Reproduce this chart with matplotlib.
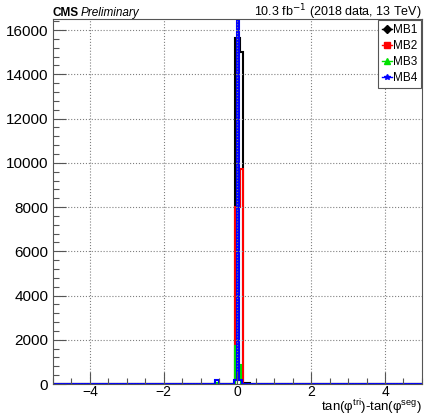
import numpy as np
import matplotlib.pyplot as plt
from matplotlib.lines import Line2D

plt.rcParams['font.family'] = ['Liberation Sans', 'DejaVu Sans']

# bin edges / counts (zero outside the listed bins)
mb1_edges = [-5, -0.065, 0.07, 0.15, 0.35, 5]
mb1_counts = [0, 15650, 15000, 50, 0]
mb2_edges = [-5, -0.065, 0.07, 0.15, 5]
mb2_counts = [0, 8000, 9700, 0]
mb3_edges = [-5, -0.6, -0.5, -0.065, 0.035, 0.1, 5]
mb3_counts = [0, 60, 0, 1700, 860, 0]
mb4_edges = [-5, -0.6, -0.5, -0.1, 0.0, 0.055, 0.12, 5]
mb4_counts = [0, 200, 0, 180, 30000, 170, 0]

labels = ['MB1', 'MB2', 'MB3', 'MB4']
colors = ['black', 'red', '#00e000', 'blue']
markers = ['D', 's', '^', '*']

fig = plt.figure(figsize=(4.25, 4.18), dpi=100)
ax = fig.add_axes([0.1247, 0.0813, 0.868, 0.8732])

series = [(mb1_edges, mb1_counts), (mb2_edges, mb2_counts),
          (mb3_edges, mb3_counts), (mb4_edges, mb4_counts)]
for (e, c), col in zip(series, colors):
    ax.stairs(c, e, color=col, lw=1.5, baseline=0)

ax.set_xlim(-5, 5)
ax.set_ylim(0, 16500)
ax.set_xticks([-4, -2, 0, 2, 4])
ax.set_xticklabels(['\u22124', '\u22122', '0', '2', '4'])
ax.set_yticks(range(0, 16001, 2000))
ax.set_xticks(np.arange(-5, 5.01, 0.5), minor=True)
ax.set_yticks(range(0, 16501, 400), minor=True)
ax.tick_params(which='both', direction='in', top=False, right=False, labelsize=11,
               width=0.8, color='#555555')
ax.tick_params(which='major', length=9)
ax.tick_params(which='minor', length=4.5)
ax.tick_params(axis='x', pad=0.5, labelsize=10)
for s in ax.spines.values():
    s.set_linewidth(0.8)
    s.set_color('#555555')
ax.grid(True, which='major', color='gray', linestyle=':', linewidth=0.8)

handles = [Line2D([], [], color=c, marker=m, markersize=4, lw=1) for c, m in zip(colors, markers)]
leg = ax.legend(handles, labels, loc='upper right', fontsize=8.5, handlelength=0.8,
                handletextpad=0.1, borderpad=0.35, labelspacing=0.35,
                fancybox=False, edgecolor='#555555', framealpha=1, borderaxespad=0.05)
leg.get_frame().set_linewidth(0.8)

fig.text(0.1247, 0.962, 'CMS', fontweight='bold', fontsize=8.5, va='baseline')
fig.text(0.19, 0.962, 'Preliminary', style='italic', fontsize=8.5, va='baseline')
fig.text(0.992, 0.962, '10.3 fb$^{-1}$ (2018 data, 13 TeV)', fontsize=9, ha='right', va='baseline')
fig.text(0.993, 0.002, r'tan($\mathregular{\varphi^{tri}}$)-tan($\mathregular{\varphi^{seg}}$)',
         fontsize=9.5, ha='right', va='bottom')

fig.savefig('out.png')
